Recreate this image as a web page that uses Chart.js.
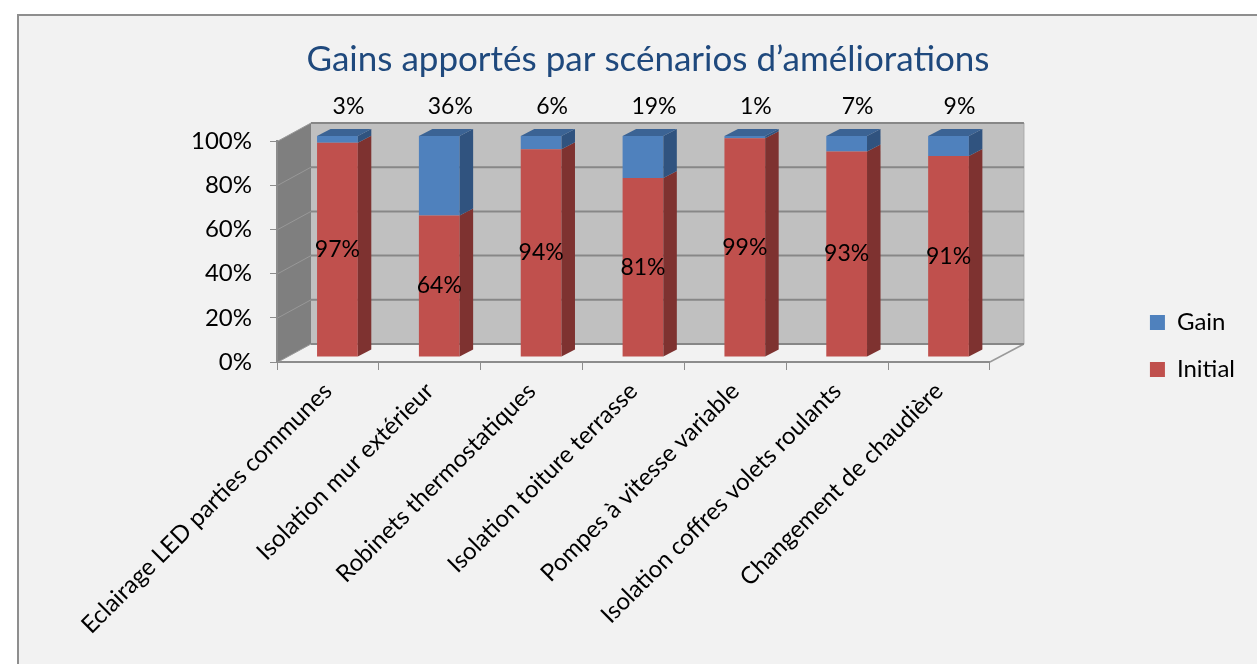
<!DOCTYPE html>
<html>
<head>
<meta charset="utf-8">
<script src="https://cdn.jsdelivr.net/npm/chart.js@4.4.1/dist/chart.umd.min.js"></script>
<style>
  html, body { margin: 0; padding: 0; background: #fff; width: 1257px; height: 664px; overflow: hidden; }
  #frame { position: absolute; left: 17px; top: 14px; width: 1262px; height: 672px; background: #f2f2f2; border: 2px solid #8e8e8e; box-sizing: border-box; }
  #wrap { position: absolute; left: 0; top: 0; width: 1257px; height: 664px; }
</style>
</head>
<body>
<div id="frame"></div>
<div id="wrap"><canvas id="chart"></canvas></div>
<script>
const categories = [
  'Eclairage LED parties communes',
  'Isolation mur extérieur',
  'Robinets thermostatiques',
  'Isolation toiture terrasse',
  'Pompes à vitesse variable',
  'Isolation coffres volets roulants',
  'Changement de chaudière'
];
const initialValues = [97, 64, 94, 81, 99, 93, 91];
const gainValues = [3, 36, 6, 19, 1, 7, 9];
const yTicks = [0, 20, 40, 60, 80, 100];

// 3D look: wall depth, bar front offset, bar depth
const DX = 34, DY = -18;
const FX = 9.5, FY = -5;
const BX = 13.5, BY = -7;

const sideColors = ['#7e3230', '#30537f'];
const topColors = ['#9a3c3a', '#3b6394'];

const threeD = {
  id: 'threeD',
  beforeDatasetsDraw(chart) {
    const { ctx, chartArea: a, scales: { y } } = chart;
    const w = a.right - a.left;
    ctx.save();
    // back wall
    ctx.fillStyle = '#c0c0c0';
    ctx.fillRect(a.left + DX, y.getPixelForValue(100) + DY, w, a.bottom - a.top);
    ctx.strokeStyle = '#a8a8a8';
    ctx.lineWidth = 1;
    ctx.beginPath();
    ctx.moveTo(a.right + DX, a.top + DY);
    ctx.lineTo(a.right + DX, a.bottom + DY);
    ctx.stroke();
    // left wall
    ctx.fillStyle = '#7f7f7f';
    ctx.beginPath();
    ctx.moveTo(a.left + 1, a.top);
    ctx.lineTo(a.left + DX, a.top + DY);
    ctx.lineTo(a.left + DX, a.bottom + DY);
    ctx.lineTo(a.left + 1, a.bottom);
    ctx.closePath();
    ctx.fill();
    // floor right edge
    ctx.strokeStyle = '#9a9a9a';
    ctx.lineWidth = 1.5;
    ctx.beginPath();
    ctx.moveTo(a.right, a.bottom);
    ctx.lineTo(a.right + DX, a.bottom + DY);
    ctx.stroke();
    // gridlines on back wall and left wall
    for (const v of yTicks) {
      const py = y.getPixelForValue(v);
      ctx.strokeStyle = '#878787';
      ctx.lineWidth = 2;
      ctx.beginPath();
      ctx.moveTo(a.left + DX, py + DY);
      ctx.lineTo(a.right + DX, py + DY);
      ctx.stroke();
      ctx.strokeStyle = '#989898';
      ctx.lineWidth = 1;
      ctx.beginPath();
      ctx.moveTo(a.left + 1, py);
      ctx.lineTo(a.left + DX, py + DY);
      ctx.stroke();
    }
    ctx.restore();
    ctx.save();
    ctx.translate(FX, FY);
  },
  afterDatasetsDraw(chart) {
    const { ctx, chartArea: a } = chart;
    ctx.restore();
    ctx.save();
    chart.data.datasets.forEach((ds, di) => {
      chart.getDatasetMeta(di).data.forEach(el => {
        const { x, y, base, width } = el.getProps(['x', 'y', 'base', 'width'], true);
        const l = x - width / 2 + FX, r = x + width / 2 + FX;
        const t = y + FY, b = base + FY;
        ctx.fillStyle = sideColors[di];
        ctx.beginPath();
        ctx.moveTo(r, t);
        ctx.lineTo(r + BX, t + BY);
        ctx.lineTo(r + BX, b + BY);
        ctx.lineTo(r, b);
        ctx.closePath();
        ctx.fill();
        if (di === chart.data.datasets.length - 1) {
          ctx.fillStyle = topColors[di];
          ctx.beginPath();
          ctx.moveTo(l, t);
          ctx.lineTo(l + BX, t + BY);
          ctx.lineTo(r + BX, t + BY);
          ctx.lineTo(r, t);
          ctx.closePath();
          ctx.fill();
        }
      });
    });
    // value labels
    ctx.fillStyle = '#000';
    ctx.font = '23px Lato';
    ctx.textAlign = 'center';
    ctx.textBaseline = 'middle';
    chart.getDatasetMeta(0).data.forEach((el, i) => {
      const { x, y, base } = el.getProps(['x', 'y', 'base'], true);
      ctx.fillText(initialValues[i] + '%', x + FX, (y + base) / 2 + FY);
    });
    chart.getDatasetMeta(1).data.forEach((el, i) => {
      const { x } = el.getProps(['x'], true);
      ctx.fillText(gainValues[i] + '%', x + FX + 11, a.top - 34);
    });
    ctx.restore();
  }
};

Chart.defaults.font.family = 'Lato';
Chart.defaults.color = '#000';

new Chart(document.getElementById('chart'), {
  type: 'bar',
  data: {
    labels: categories,
    datasets: [
      { label: 'Initial', data: initialValues, backgroundColor: '#c0504d', borderWidth: 0 },
      { label: 'Gain', data: gainValues, backgroundColor: '#4f81bd', borderWidth: 0 }
    ]
  },
  options: {
    responsive: true,
    maintainAspectRatio: false,
    animation: false,
    events: [],
    layout: { padding: { left: 51, right: 12, top: 28, bottom: 0 } },
    datasets: { bar: { categoryPercentage: 1, barPercentage: 0.4, clip: false } },
    scales: {
      x: {
        stacked: true,
        grid: { display: true, drawOnChartArea: false, drawTicks: true, tickLength: 8, color: '#8c8c8c', offset: true },
        border: { display: true, color: '#8c8c8c', width: 2 },
        ticks: { minRotation: 45, maxRotation: 45, font: { size: 24 }, padding: 7, autoSkip: false },
        afterFit(s) { s.height = 302; }
      },
      y: {
        stacked: true,
        min: 0,
        max: 100,
        grid: { display: true, drawOnChartArea: false, drawTicks: true, tickLength: 7, color: '#8c8c8c' },
        border: { display: true, color: '#8c8c8c', width: 2 },
        ticks: { stepSize: 20, font: { size: 24 }, padding: 18, callback: v => v + '%' },
        afterFit(s) { s.width = 226; }
      },
      gap: {
        position: 'right',
        display: true,
        grid: { display: false },
        border: { display: false },
        ticks: { display: false },
        afterFit(s) { s.width = 137; }
      }
    },
    plugins: {
      title: {
        display: true,
        text: 'Gains apportés par scénarios d’améliorations',
        color: '#1f497d',
        font: { size: 35, weight: 'normal' },
        padding: { top: 11, bottom: 60 }
      },
      legend: {
        position: 'right',
        align: 'center',
        reverse: true,
        labels: { boxWidth: 15, boxHeight: 15, padding: 23, font: { size: 24 }, color: '#000' }
      },
      tooltip: { enabled: false }
    }
  },
  plugins: [threeD]
});
</script>
</body>
</html>
